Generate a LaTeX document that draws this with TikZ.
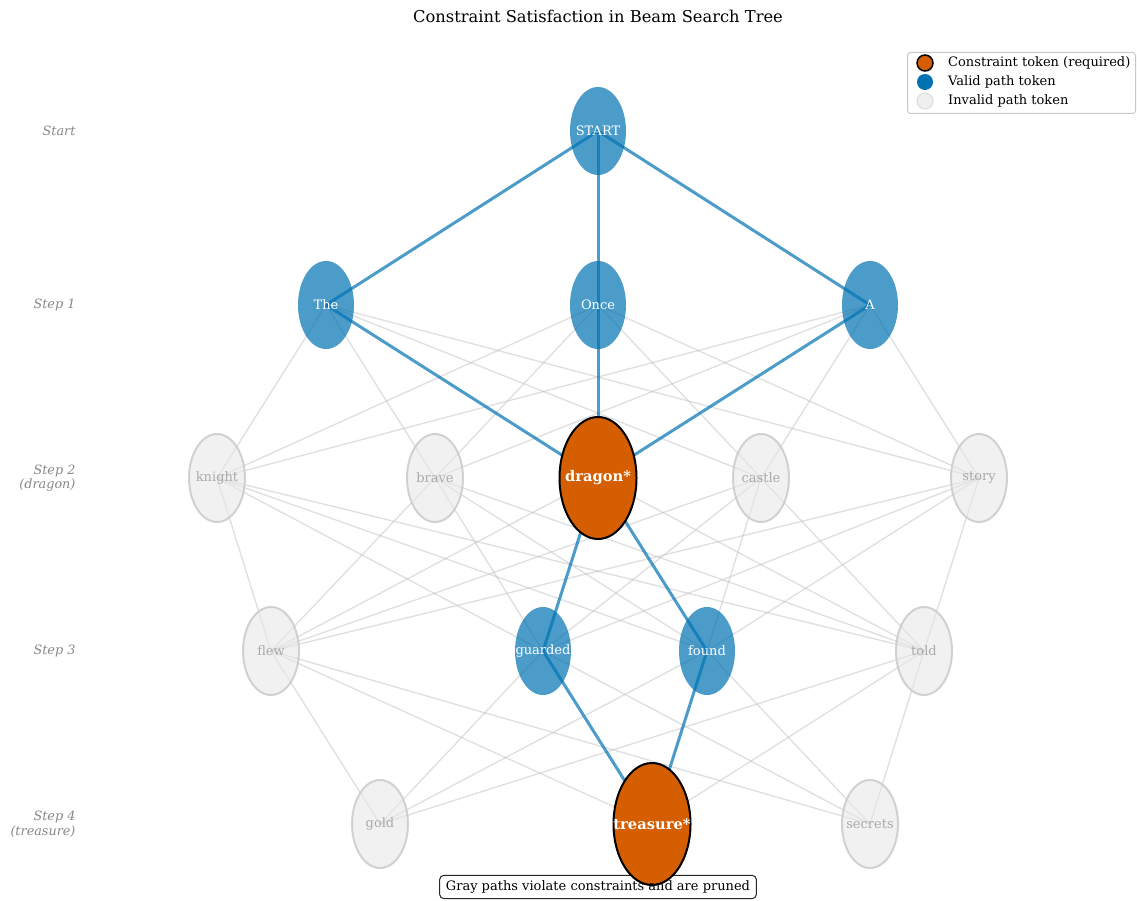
\documentclass[tikz,border=0pt]{standalone}
\usepackage{fontspec}
\setmainfont{DejaVu Serif}
\usetikzlibrary{shapes.geometric,fit}
\pgfdeclarelayer{bg}
\pgfdeclarelayer{edges}
\pgfsetlayers{bg,edges,main}
\definecolor{vblue}{HTML}{0072B2}
\definecolor{corange}{HTML}{D55E00}
\definecolor{gfill}{HTML}{E8E8E8}
\definecolor{gdraw}{HTML}{C8C8C8}
\definecolor{gtext}{HTML}{AAAAAA}
\definecolor{gedge}{HTML}{BBBBBB}
\definecolor{lbl}{HTML}{888888}
\newcommand{\zw}[1]{\makebox[0pt]{#1}}
\tikzset{
  tok/.style={ellipse, minimum width=56pt, minimum height=88pt, inner sep=0pt,
    font=\fontsize{13}{15}\selectfont},
  validtok/.style={tok, fill=vblue, fill opacity=0.7, text opacity=1, text=white},
  invalidtok/.style={tok, fill=gfill, fill opacity=0.6, draw=gdraw, draw opacity=0.8,
    line width=2pt, text opacity=1, text=gtext},
  constok/.style={ellipse, minimum width=77pt, minimum height=122pt, inner sep=0pt,
    fill=corange, draw=black, line width=2pt, text=white,
    font=\fontsize{14.7}{17}\selectfont\bfseries},
  grayedge/.style={draw=gedge, line width=1.4pt, draw opacity=0.45},
  blueedge/.style={draw=vblue, line width=3pt, draw opacity=0.7},
  steplabel/.style={anchor=east, align=right, text=lbl,
    font=\fontsize{12.8}{14.5}\selectfont\itshape},
  legmark/.style={circle, minimum size=16pt, inner sep=0pt},
  legtext/.style={anchor=west, font=\fontsize{13}{15}\selectfont, inner sep=0pt},
}
\begin{document}
\begin{tikzpicture}[x=1pt,y=-1pt]
\useasboundingbox (0,0) rectangle (1137,901);
% title
\node[font=\fontsize{16.3}{19}\selectfont] (title) at (598,16) {Constraint Satisfaction in Beam Search Tree};
% step labels
\node[steplabel] (lab0) at (79,131) {Start};
\node[steplabel] (lab1) at (79,305) {Step 1};
\node[steplabel] (lab2) at (79,478) {Step 2\\(dragon)};
\node[steplabel] (lab3) at (79,651) {Step 3};
\node[steplabel] (lab4) at (79,824) {Step 4\\(treasure)};
% tokens
\node[validtok] (START) at (598,131) {\zw{START}};
\node[validtok] (The) at (326,305) {\zw{The}};
\node[validtok] (Once) at (598,305) {\zw{Once}};
\node[validtok] (A) at (870,305) {\zw{A}};
\node[invalidtok] (knight) at (217,478) {\zw{knight}};
\node[invalidtok] (brave) at (435,478) {\zw{brave}};
\node[constok] (dragon) at (598,478) {\zw{dragon*}};
\node[invalidtok] (castle) at (761,478) {\zw{castle}};
\node[invalidtok] (story) at (979,478) {\zw{story}};
\node[invalidtok] (flew) at (271,651) {\zw{flew}};
\node[validtok] (guarded) at (543,651) {\zw{guarded}};
\node[validtok] (found) at (707,651) {\zw{found}};
\node[invalidtok] (told) at (924,651) {\zw{told}};
\node[invalidtok] (gold) at (380,824) {\zw{gold}};
\node[constok] (treasure) at (652,824) {\zw{treasure*}};
\node[invalidtok] (secrets) at (870,824) {\zw{secrets}};
% note
\node[font=\fontsize{13}{15}\selectfont, inner sep=0pt] (note) at (598,887) {Gray paths violate constraints and are pruned};
\begin{pgfonlayer}{bg}
\node[fit=(note), inner xsep=6pt, inner ysep=5pt, draw=black!85, line width=1pt, rounded corners=4pt] (notebox) {};
\end{pgfonlayer}
% edges
\begin{pgfonlayer}{edges}
\foreach \a in {The,Once,A}
  \foreach \b in {knight,brave,castle,story}
    \draw[grayedge] (\a.center) -- (\b.center);
\foreach \a in {knight,brave,castle,story}
  \foreach \b in {flew,guarded,found,told}
    \draw[grayedge] (\a.center) -- (\b.center);
\foreach \b in {flew,told}
  \draw[grayedge] (dragon.center) -- (\b.center);
\foreach \a in {flew,told}
  \foreach \b in {gold,treasure,secrets}
    \draw[grayedge] (\a.center) -- (\b.center);
\foreach \a in {guarded,found}
  \foreach \b in {gold,secrets}
    \draw[grayedge] (\a.center) -- (\b.center);
\foreach \a/\b in {START/The,START/Once,START/A,The/dragon,Once/dragon,A/dragon,dragon/guarded,dragon/found,guarded/treasure,found/treasure}
  \draw[blueedge] (\a.center) -- (\b.center);
\end{pgfonlayer}
% legend
\node[draw=gdraw, line width=1pt, rounded corners=3pt, minimum width=228pt, minimum height=61pt, anchor=north west] (legend) at (907,52) {};
\node[legmark, fill=corange, draw=black, line width=1.5pt] (m1) at (925,63) {};
\node[legmark, fill=vblue] (m2) at (925,82) {};
\node[legmark, fill=gfill, fill opacity=0.7, draw=gdraw, draw opacity=0.6, line width=1pt] (m3) at (925,101) {};
\node[legtext] (t1) at (948,63) {Constraint token (required)};
\node[legtext] (t2) at (948,82) {Valid path token};
\node[legtext] (t3) at (948,101) {Invalid path token};
\end{tikzpicture}
\end{document}
